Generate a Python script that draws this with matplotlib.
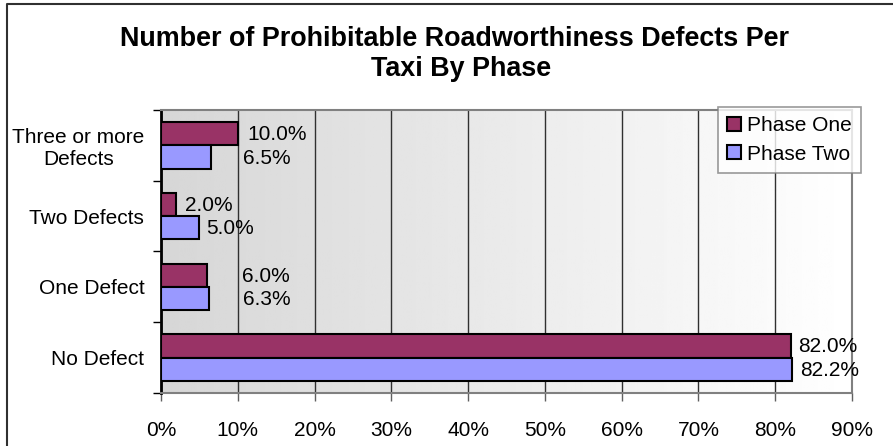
import numpy as np
import matplotlib
matplotlib.use("Agg")
import matplotlib.pyplot as plt
from matplotlib.lines import Line2D

plt.rcParams['font.family'] = ['Liberation Sans', 'DejaVu Sans']

categories = ["No Defect", "One Defect", "Two Defects", "Three or more\nDefects"]
phase_one = [82.0, 6.0, 2.0, 10.0]
phase_two = [82.2, 6.3, 5.0, 6.5]
series_names = ["Phase One", "Phase Two"]
ticks = [0, 10, 20, 30, 40, 50, 60, 70, 80, 90]
tick_labels = ["%d%%" % t for t in ticks]
title_lines = ["Number of Prohibitable Roadworthiness Defects Per", "Taxi By Phase"]

# label nudges (pixels) to mimic where Excel put them
off_one = [8, 35, 9, 10]
off_two = [8, 34, 7, 32]

W, H = 893, 446
fig = plt.figure(figsize=(W / 100, H / 100), dpi=100)
ax = fig.add_axes([161 / W, (H - 393) / H, (852 - 161) / W, (393 - 110) / H])

# gradient background
grad = np.linspace(0.84, 1.0, 256).reshape(1, -1)
ax.imshow(grad, cmap="gray", vmin=0, vmax=1, aspect="auto",
          extent=[0, 90, -0.5, 3.5], zorder=0)

y = np.arange(len(categories))
h = 0.33
b1 = ax.barh(y + h / 2, phase_one, height=h, color="#993366",
             edgecolor="black", linewidth=1.5, label=series_names[0], zorder=3)
b2 = ax.barh(y - h / 2, phase_two, height=h, color="#9999FF",
             edgecolor="black", linewidth=1.5, label=series_names[1], zorder=3)

for bars, vals, offs in [(b1, phase_one, off_one), (b2, phase_two, off_two)]:
    for bar, v, o in zip(bars, vals, offs):
        ax.annotate("%.1f%%" % v, (bar.get_width(), bar.get_y() + bar.get_height() / 2),
                    xytext=(o, -1), textcoords="offset pixels",
                    ha="left", va="center", fontsize=15, zorder=4)

ax.set_xlim(0, 90)
ax.set_ylim(-0.5, 3.5)
ax.set_xticks(ticks)
ax.set_xticklabels(tick_labels, fontsize=15)
ax.set_yticks([-0.5, 0.5, 1.5, 2.5, 3.5])
ax.set_yticklabels([])
ax.set_yticks(y, minor=True)
ax.set_yticklabels(categories, minor=True, fontsize=15, multialignment="center")
ax.tick_params(axis="y", which="minor", length=0, pad=12)
ax.tick_params(axis="y", which="major", length=6, width=1, color="black")
ax.tick_params(axis="x", length=6, width=1, color="#606060", pad=14)

ax.grid(axis="x", color="#303030", linewidth=1, zorder=1)
for s in ["top", "right", "bottom"]:
    ax.spines[s].set_color("#808080")
    ax.spines[s].set_linewidth(1.5)
ax.spines["left"].set_color("black")
ax.spines["left"].set_linewidth(2)

leg = fig.legend(loc="upper right", bbox_to_anchor=(861 / W, 1 - 107 / H),
                 fontsize=15, frameon=True, fancybox=False, handlelength=0.65,
                 handleheight=0.65, handletextpad=0.3, borderpad=0.45,
                 labelspacing=0.45, borderaxespad=0)
leg.get_frame().set_edgecolor("#808080")
leg.get_frame().set_linewidth(1.2)

fig.text(455 / W, 1 - 46 / H, title_lines[0],
         ha="center", va="baseline", fontsize=19.4, fontweight="bold")
fig.text(461 / W, 1 - 76 / H, title_lines[1],
         ha="center", va="baseline", fontsize=19.4, fontweight="bold")

# outer chart border (runs off the right and bottom edges)
fig.add_artist(Line2D([7 / W, 7 / W, 1.0], [0.0, 1 - 4 / H, 1 - 4 / H],
                      transform=fig.transFigure, color="#303030", linewidth=1.5))

fig.savefig("out.png", dpi=100)
